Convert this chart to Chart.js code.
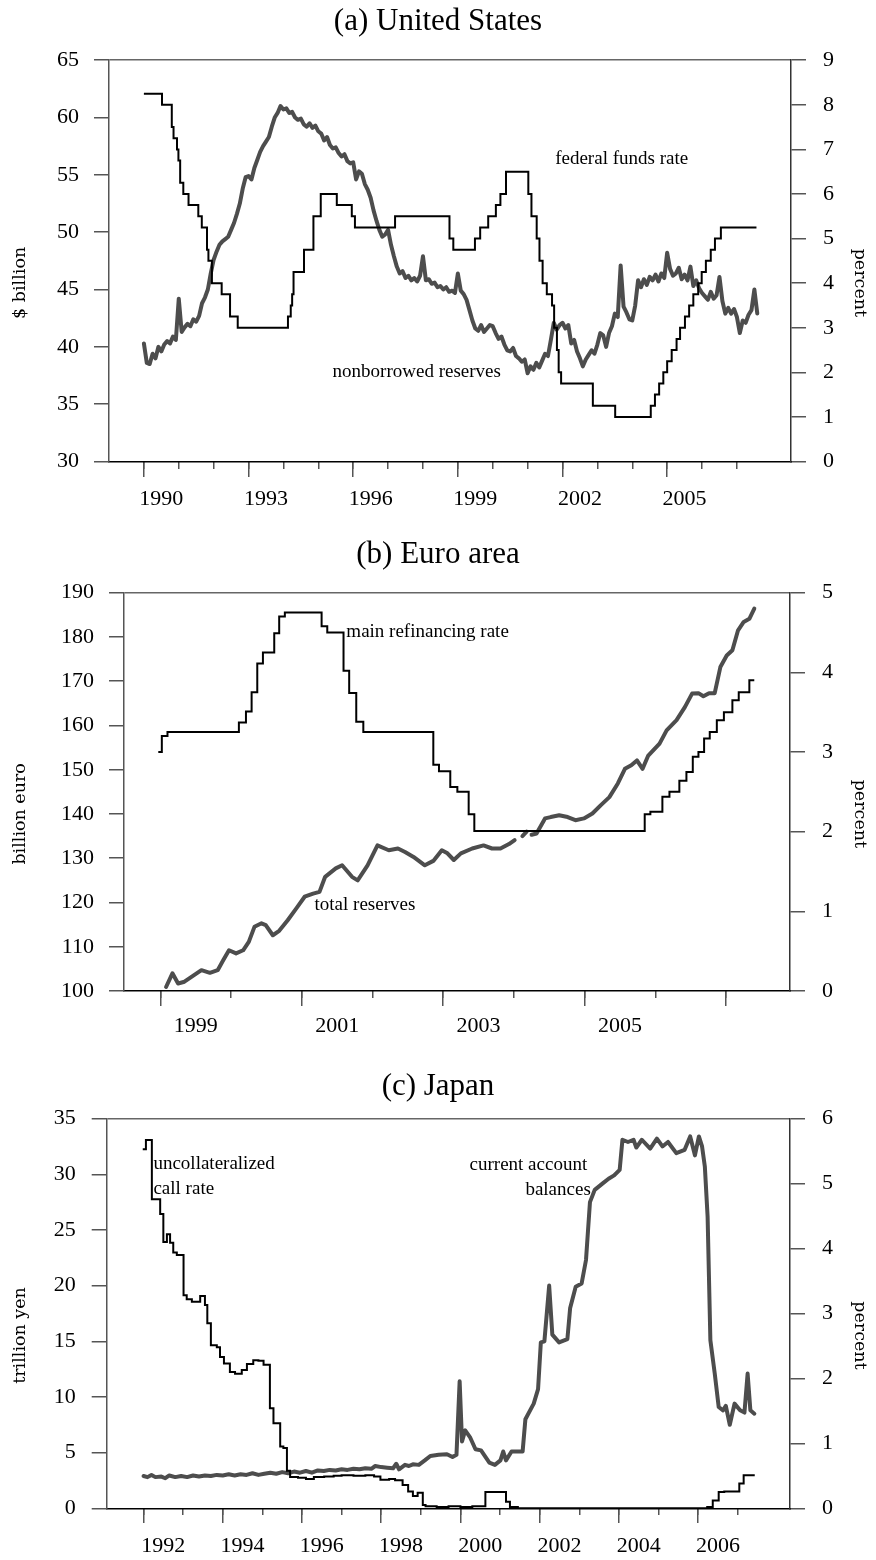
<!DOCTYPE html>
<html>
<head>
<meta charset="utf-8">
<title>Reserves and policy rates</title>
<script src="https://cdn.jsdelivr.net/npm/chart.js@4.4.1/dist/chart.umd.min.js"></script>
<style>
  html, body { margin: 0; padding: 0; background: #fff; }
  canvas { display: block; }
</style>
</head>
<body>
<canvas id="chartUS" width="876" height="520"></canvas>
<canvas id="chartEU" width="876" height="540"></canvas>
<canvas id="chartJP" width="876" height="500"></canvas>
<script>
// ---- (a) United States ----
// nonborrowed reserves, $ billion, monthly from Jan 1990
const usReserveStart = 1990;
const usReserves = [
  40.3, 38.6, 38.5, 39.4, 39.0, 40.0, 39.6, 40.2, 40.5, 40.3, 40.9, 40.6,
  44.2, 41.3, 41.7, 42.0, 41.8, 42.4, 42.2, 42.7, 43.8, 44.3, 45.0, 46.4,
  47.6, 48.3, 48.9, 49.2, 49.4, 49.6, 50.2, 50.8, 51.6, 52.5, 53.8, 54.8,
  54.9, 54.6, 55.6, 56.3, 57.0, 57.5, 57.9, 58.3, 59.2, 60.0, 60.4, 61.0,
  60.7, 60.8, 60.4, 60.5, 60.0, 59.8, 59.9, 59.4, 59.2, 59.5, 59.1, 59.3,
  58.8, 58.6, 58.0, 58.3, 57.6, 57.3, 57.4, 56.9, 56.6, 56.8, 56.2, 56.0,
  56.1, 54.6, 55.3, 55.1, 54.2, 53.7, 53.0, 51.9, 51.0, 50.2, 49.6, 49.8,
  50.2, 48.9, 47.9, 47.0, 46.4, 46.6, 46.0, 46.2, 45.8, 46.0, 45.7, 46.2,
  47.9, 45.8, 45.9, 45.5, 45.6, 45.2, 45.3, 45.0, 45.2, 44.8, 44.9, 44.7,
  46.4, 44.9, 44.6, 44.1, 43.2, 42.3, 41.6, 41.4, 41.9, 41.3, 41.6, 41.9,
  41.8, 41.2, 40.7, 40.9, 40.2, 39.7, 39.6, 39.9, 39.2, 39.0, 38.7, 38.9,
  37.7, 38.3, 38.0, 38.6, 38.2, 38.8, 39.4, 39.2, 40.6, 42.1, 41.5, 41.9,
  42.1, 41.6, 41.9, 40.3, 40.6, 39.6, 39.0, 38.3, 38.9, 39.3, 39.7, 39.4,
  40.2, 41.2, 41.0, 40.0, 41.2, 41.8, 42.9, 42.6, 47.1, 43.5, 43.0, 42.4,
  42.3, 43.6, 45.8, 45.2, 45.9, 45.4, 46.1, 45.8, 46.3, 45.7, 46.4, 46.0,
  48.2, 46.8, 46.2, 46.4, 46.9, 45.9, 46.3, 45.8, 47.0, 45.3, 45.8, 45.1,
  44.7, 44.4, 44.1, 44.8, 44.2, 44.5, 46.1, 44.0, 42.9, 43.4, 42.9, 43.3,
  42.6, 41.2, 42.3, 42.1, 42.8, 43.2, 45.0, 42.9
];
// federal funds rate target, percent (each value holds until the next date)
const usRateDates = [
  1990.0, 1990.52, 1990.80, 1990.85, 1990.95, 1990.99, 1991.04, 1991.13, 1991.28, 1991.56,
  1991.66, 1991.81, 1991.85, 1991.95, 1992.23, 1992.47, 1992.69, 1994.13, 1994.21, 1994.25,
  1994.29, 1994.59, 1994.86, 1995.07, 1995.53, 1995.96, 1996.05, 1997.20, 1998.76, 1998.87,
  1999.49, 1999.64, 1999.87, 2000.09, 2000.22, 2000.38, 2001.02, 2001.11, 2001.26, 2001.34,
  2001.43, 2001.55, 2001.70, 2001.76, 2001.84, 2001.89, 2001.96, 2002.87, 2003.51, 2004.53,
  2004.65, 2004.77, 2004.89, 2005.00, 2005.13, 2005.27, 2005.37, 2005.51, 2005.63, 2005.75,
  2005.89, 2005.99, 2006.11, 2006.25, 2006.37, 2006.54, 2007.56
];
const usRates = [
  8.25, 8.0, 7.5, 7.25, 7.0, 6.75, 6.25, 6.0, 5.75, 5.5,
  5.25, 4.75, 4.5, 4.0, 3.75, 3.25, 3.0, 3.25, 3.5, 3.75,
  4.25, 4.75, 5.5, 6.0, 5.75, 5.5, 5.25, 5.5, 5.0, 4.75,
  5.0, 5.25, 5.5, 5.75, 6.0, 6.5, 6.0, 5.5, 5.0, 4.5,
  4.0, 3.75, 3.5, 3.0, 2.5, 2.0, 1.75, 1.25, 1.0, 1.25,
  1.5, 1.75, 2.0, 2.25, 2.5, 2.75, 3.0, 3.25, 3.5, 3.75,
  4.0, 4.25, 4.5, 4.75, 5.0, 5.25, 5.25
];
const usLabelYears = [1990, 1993, 1996, 1999, 2002, 2005];
const usMajorTicks = [1990, 1993, 1996, 1999, 2002, 2005];
const usMinorTicks = [1990, 1991, 1992, 1993, 1994, 1995, 1996, 1997, 1998, 1999, 2000, 2001, 2002, 2003, 2004, 2005, 2006, 2007];

// ---- (b) Euro area ----
const euReserveDates = [
  1999.08, 1999.17, 1999.25, 1999.34, 1999.46, 1999.58, 1999.70, 1999.81, 1999.89, 1999.97,
  2000.07, 2000.17, 2000.25, 2000.33, 2000.43, 2000.49, 2000.59, 2000.68, 2000.80, 2000.92,
  2001.04, 2001.16, 2001.25, 2001.33, 2001.48, 2001.57, 2001.71, 2001.79, 2001.93, 2002.07,
  2002.23, 2002.36, 2002.46, 2002.58, 2002.74, 2002.86, 2002.98, 2003.06, 2003.15, 2003.25,
  2003.41, 2003.57, 2003.69, 2003.81, 2003.93, 2004.01, 2004.06, 2004.12, 2004.18, 2004.21,
  2004.25, 2004.32, 2004.44, 2004.52, 2004.64, 2004.76, 2004.87, 2004.99, 2005.11, 2005.23,
  2005.35, 2005.47, 2005.57, 2005.66, 2005.74, 2005.82, 2005.90, 2006.06, 2006.16, 2006.30,
  2006.42, 2006.52, 2006.61, 2006.68, 2006.76, 2006.84, 2006.92, 2007.01, 2007.09, 2007.17,
  2007.25, 2007.33, 2007.40
];
const euReserves = [
  100.9, 104.0, 101.7, 102.1, 103.4, 104.7, 104.1, 104.7, 107.0, 109.2,
  108.5, 109.2, 111.1, 114.5, 115.3, 114.9, 112.6, 113.6, 116.0, 118.6,
  121.3, 122.0, 122.4, 125.8, 127.7, 128.4, 125.8, 125.0, 128.4, 132.9,
  131.8, 132.2, 131.4, 130.3, 128.4, 129.4, 131.8, 131.1, 129.6, 131.1,
  132.2, 132.9, 132.2, 132.2, 133.2, 134.1, null, 135.0, 136.0, null,
  135.3, 135.6, 139.0, 139.3, 139.7, 139.3, 138.6, 139.0, 140.1, 142.0,
  143.8, 146.9, 150.2, 151.0, 152.1, 150.2, 153.2, 155.9, 158.9, 161.2,
  164.2, 167.2, 167.3, 166.6, 167.3, 167.3, 173.2, 175.8, 177.0, 181.5,
  183.4, 184.1, 186.4
];
const euRateDates = [
  1998.97, 1999.02, 1999.10, 2000.11, 2000.21, 2000.29, 2000.37, 2000.45, 2000.61, 2000.68,
  2000.76, 2001.28, 2001.36, 2001.59, 2001.67, 2001.77, 2001.87, 2002.86, 2002.94, 2003.10,
  2003.20, 2003.36, 2003.44, 2005.85, 2005.93, 2006.10, 2006.20, 2006.34, 2006.44, 2006.53,
  2006.61, 2006.69, 2006.77, 2006.87, 2006.97, 2007.09, 2007.18, 2007.33, 2007.40
];
const euRates = [
  3.0, 3.2, 3.25, 3.37, 3.51, 3.75, 4.11, 4.25, 4.49, 4.70,
  4.75, 4.58, 4.5, 4.02, 3.74, 3.38, 3.25, 2.84, 2.76, 2.56,
  2.5, 2.22, 2.01, 2.22, 2.25, 2.44, 2.5, 2.64, 2.75, 2.94,
  3.0, 3.17, 3.25, 3.40, 3.50, 3.65, 3.75, 3.90, 3.90
];
const euLabelYears = [1999, 2001, 2003, 2005];
const euMajorTicks = [1999, 2001, 2003, 2005, 2007];
const euMinorTicks = [1999, 2000, 2001, 2002, 2003, 2004, 2005, 2006, 2007];

// ---- (c) Japan ----
const jpBalanceDates = [
  1992.00, 1992.10, 1992.20, 1992.30, 1992.45, 1992.55, 1992.65, 1992.80, 1992.95, 1993.10,
  1993.25, 1993.40, 1993.55, 1993.70, 1993.85, 1994.00, 1994.15, 1994.30, 1994.45, 1994.60,
  1994.75, 1994.90, 1995.05, 1995.20, 1995.35, 1995.50, 1995.65, 1995.80, 1995.95, 1996.10,
  1996.25, 1996.40, 1996.55, 1996.70, 1996.85, 1997.00, 1997.15, 1997.30, 1997.45, 1997.60,
  1997.75, 1997.85, 1998.00, 1998.15, 1998.30, 1998.38, 1998.45, 1998.60, 1998.70, 1998.80,
  1998.95, 1999.10, 1999.24, 1999.45, 1999.66, 1999.80, 1999.90, 1999.98, 2000.04, 2000.12,
  2000.24, 2000.38, 2000.52, 2000.73, 2000.87, 2001.01, 2001.08, 2001.15, 2001.29, 2001.57,
  2001.64, 2001.85, 2001.96, 2002.03, 2002.12, 2002.24, 2002.32, 2002.49, 2002.70, 2002.77,
  2002.91, 2003.06, 2003.17, 2003.27, 2003.39, 2003.60, 2003.74, 2003.88, 2004.02, 2004.09,
  2004.23, 2004.37, 2004.44, 2004.58, 2004.79, 2004.96, 2005.10, 2005.24, 2005.45, 2005.66,
  2005.80, 2005.92, 2006.02, 2006.10, 2006.17, 2006.24, 2006.31, 2006.42, 2006.52, 2006.63,
  2006.70, 2006.80, 2006.92, 2007.06, 2007.17, 2007.25, 2007.32, 2007.42
];
const jpBalances = [
  2.9, 2.8, 3.0, 2.8, 2.85, 2.7, 2.95, 2.8, 2.9, 2.8,
  2.95, 2.85, 2.95, 2.9, 3.0, 2.95, 3.05, 2.95, 3.05, 3.0,
  3.15, 3.0, 3.1, 3.2, 3.1, 3.25, 3.15, 3.3, 3.2, 3.35,
  3.2, 3.4, 3.35, 3.45, 3.4, 3.5, 3.45, 3.55, 3.5, 3.6,
  3.55, 3.8, 3.7, 3.65, 3.6, 4.0, 3.5, 3.9, 3.8, 3.95,
  3.9, 4.3, 4.7, 4.8, 4.85, 4.6, 4.8, 11.4, 6.0, 7.0,
  6.4, 5.3, 5.2, 4.1, 3.9, 4.3, 5.1, 4.3, 5.1, 5.1,
  8.0, 9.4, 10.7, 14.9, 15.0, 20.0, 15.6, 14.9, 15.2, 18.0,
  19.9, 20.2, 22.3, 27.5, 28.6, 29.2, 29.6, 29.9, 30.4, 33.1,
  32.9, 33.1, 32.4, 33.1, 32.3, 33.2, 32.5, 32.9, 31.9, 32.2,
  33.4, 31.7, 33.4, 32.5, 30.7, 26.2, 15.1, 12.1, 9.1, 8.8,
  9.2, 7.5, 9.4, 8.8, 8.6, 12.1, 8.8, 8.5
];
const jpRateDates = [
  1991.98, 1992.06, 1992.21, 1992.42, 1992.50, 1992.59, 1992.67, 1992.75, 1992.84, 1993.01,
  1993.09, 1993.22, 1993.43, 1993.55, 1993.61, 1993.70, 1993.85, 1993.93, 1994.03, 1994.18,
  1994.31, 1994.48, 1994.61, 1994.77, 1994.90, 1995.03, 1995.19, 1995.28, 1995.45, 1995.53,
  1995.62, 1995.70, 1995.90, 1996.10, 1996.30, 1996.56, 1996.80, 1997.00, 1997.30, 1997.60,
  1997.82, 1997.98, 1998.20, 1998.35, 1998.54, 1998.68, 1998.80, 1998.92, 1999.05, 1999.12,
  1999.40, 1999.70, 2000.00, 2000.30, 2000.63, 2001.15, 2001.25, 2001.45, 2006.23, 2006.37,
  2006.52, 2006.66, 2007.04, 2007.15, 2007.43
];
const jpRates = [
  5.53, 5.67, 4.76, 4.53, 4.10, 4.22, 4.09, 3.94, 3.90, 3.28,
  3.22, 3.18, 3.27, 3.13, 2.85, 2.51, 2.48, 2.33, 2.23, 2.10,
  2.07, 2.13, 2.22, 2.28, 2.27, 2.21, 1.54, 1.31, 0.95, 0.93,
  0.58, 0.48, 0.47, 0.45, 0.48, 0.49, 0.50, 0.51, 0.50, 0.51,
  0.49, 0.44, 0.45, 0.43, 0.36, 0.26, 0.19, 0.24, 0.05, 0.03,
  0.02, 0.03, 0.02, 0.03, 0.25, 0.10, 0.02, 0.002, 0.02, 0.12,
  0.25, 0.26, 0.38, 0.51, 0.51
];
const jpLabelYears = [1992, 1994, 1996, 1998, 2000, 2002, 2004, 2006];
const jpMajorTicks = [1992, 1994, 1996, 1998, 2000, 2002, 2004, 2006];
const jpMinorTicks = [1992, 1993, 1994, 1995, 1996, 1997, 1998, 1999, 2000, 2001, 2002, 2003, 2004, 2005, 2006, 2007];

// ---- styling ----
const SERIF = '"Liberation Serif", "Times New Roman", serif';
const SIDE_FONT = '17.5px "DejaVu Serif", serif';
const NOTE_FONT = '19px ' + SERIF;
const GRAY = '#4d4d4d';
const AXIS = '#555';

Chart.defaults.font.family = SERIF;
Chart.defaults.color = '#000';

function pairs(xs, ys) {
  return xs.map((x, i) => ({ x, y: ys[i] }));
}
function monthly(start, ys) {
  return ys.map((y, i) => ({ x: start + i / 12, y }));
}

// axis titles and in-plot labels
function textPlugin(p) {
  return {
    id: 'panelText',
    afterDraw(chart) {
      const { ctx, chartArea, scales } = chart;
      const midY = (chartArea.top + chartArea.bottom) / 2 + 22;
      ctx.save();
      ctx.fillStyle = '#000';
      ctx.textAlign = 'center';
      ctx.textBaseline = 'middle';
      ctx.font = SIDE_FONT;
      ctx.save();
      ctx.translate(20, midY);
      ctx.rotate(-Math.PI / 2);
      ctx.fillText(p.leftTitle, 0, 0);
      ctx.restore();
      ctx.save();
      ctx.translate(860, midY);
      ctx.rotate(Math.PI / 2);
      ctx.fillText(p.rightTitle, 0, 0);
      ctx.restore();
      ctx.font = NOTE_FONT;
      ctx.textAlign = 'left';
      p.notes.forEach((n) => {
        ctx.fillText(n.text, scales.x.getPixelForValue(n.x), scales.y.getPixelForValue(n.y));
      });
      ctx.restore();
    },
  };
}

function tickAxis(p, list, len) {
  return {
    type: 'linear', axis: 'x', position: { y: p.left.min },
    min: p.xMin, max: p.xMax, bounds: 'data',
    afterBuildTicks: (s) => { s.ticks = list.map((v) => ({ value: v })); },
    ticks: { display: false },
    grid: { drawOnChartArea: false, tickLength: len, tickColor: AXIS, lineWidth: 1.5 },
    border: { display: false },
  };
}

function buildPanel(id, p) {
  return new Chart(document.getElementById(id), {
    type: 'line',
    data: {
      datasets: [
        {
          data: pairs(p.rateDates, p.rates), xAxisID: 'x', yAxisID: 'y2',
          stepped: true, borderColor: '#000', borderWidth: 2, pointRadius: 0,
        },
        {
          data: p.reserves, xAxisID: 'x', yAxisID: 'y',
          borderColor: GRAY, borderWidth: 4, pointRadius: 0,
          borderJoinStyle: 'round', borderCapStyle: 'round', spanGaps: false,
        },
      ],
    },
    options: {
      responsive: false,
      animation: false,
      events: [],
      layout: { padding: 0 },
      plugins: {
        legend: { display: false },
        tooltip: { enabled: false },
        title: {
          display: true, text: p.title, color: '#000',
          font: { size: 31, weight: 'normal' },
          padding: p.titlePad,
        },
      },
      scales: {
        x: {
          type: 'linear', axis: 'x', position: 'bottom',
          min: p.xMin, max: p.xMax, bounds: 'data',
          afterBuildTicks: (s) => { s.ticks = p.labelYears.map((v) => ({ value: v + 0.5 })); },
          afterFit: (s) => { s.height = p.xHeight; },
          ticks: {
            callback: (v) => String(v - 0.5), autoSkip: false, maxRotation: 0,
            font: { size: 22 }, color: '#000', padding: p.xLabelPad,
          },
          grid: { drawOnChartArea: false, tickLength: 15, tickColor: 'rgba(0,0,0,0)' },
          border: { color: '#000', width: 1.5 },
        },
        xMajor: tickAxis(p, p.majorTicks, 15),
        xMinor: tickAxis(p, p.minorTicks, 7),
        y: {
          type: 'linear', axis: 'y', position: 'left',
          min: p.left.min, max: p.left.max,
          afterFit: (s) => { s.width = p.leftWidth; },
          ticks: { stepSize: p.left.step, font: { size: 22 }, color: '#000', padding: p.leftPad },
          grid: {
            drawOnChartArea: true, tickLength: 15, tickColor: AXIS, lineWidth: 1.5,
            color: (c) => (c.tick && c.tick.value === p.left.max ? '#666' : 'rgba(0,0,0,0)'),
          },
          border: { color: AXIS, width: 1.5 },
        },
        y2: {
          type: 'linear', axis: 'y', position: 'right',
          min: p.right.min, max: p.right.max,
          afterFit: (s) => { s.width = 876 - p.rightEdge; },
          ticks: { stepSize: 1, font: { size: 22 }, color: '#000', padding: 17 },
          grid: { drawOnChartArea: false, tickLength: 15, tickColor: AXIS, lineWidth: 1.5 },
          border: { color: '#333', width: 1.5 },
        },
      },
    },
    plugins: [textPlugin(p)],
  });
}

buildPanel('chartUS', {
  title: '(a) United States',
  titlePad: { top: 3, bottom: 20 },
  xMin: 1989.0, xMax: 2008.55, xHeight: 58.5, xLabelPad: 10,
  labelYears: usLabelYears, majorTicks: usMajorTicks, minorTicks: usMinorTicks,
  left: { min: 30, max: 65, step: 5 }, right: { min: 0, max: 9 },
  leftWidth: 109, leftPad: 15, rightEdge: 791,
  reserves: monthly(usReserveStart, usReserves),
  rateDates: usRateDates, rates: usRates,
  leftTitle: '$ billion', rightTitle: 'percent',
  notes: [
    { text: 'federal funds rate', x: 2001.79, y: 56.4 },
    { text: 'nonborrowed reserves', x: 1995.41, y: 37.84 },
  ],
});

buildPanel('chartEU', {
  title: '(b) Euro area',
  titlePad: { top: 16.4, bottom: 19.1 },
  xMin: 1998.485, xMax: 2007.905, xHeight: 69, xLabelPad: 7,
  labelYears: euLabelYears, majorTicks: euMajorTicks, minorTicks: euMinorTicks,
  left: { min: 100, max: 190, step: 10 }, right: { min: 0, max: 5 },
  leftWidth: 124, leftPad: 15, rightEdge: 790,
  reserves: pairs(euReserveDates, euReserves),
  rateDates: euRateDates, rates: euRates,
  leftTitle: 'billion euro', rightTitle: 'percent',
  notes: [
    { text: 'main refinancing rate', x: 2001.63, y: 181.1 },
    { text: 'total reserves', x: 2001.18, y: 119.4 },
  ],
});

buildPanel('chartJP', {
  title: '(c) Japan',
  titlePad: { top: 8.4, bottom: 13 },
  xMin: 1991.07, xMax: 2008.32, xHeight: 51.7, xLabelPad: 9.5,
  labelYears: jpLabelYears, majorTicks: jpMajorTicks, minorTicks: jpMinorTicks,
  left: { min: 0, max: 35, step: 5 }, right: { min: 0, max: 6 },
  leftWidth: 106.7, leftPad: 16, rightEdge: 790,
  reserves: pairs(jpBalanceDates, jpBalances),
  rateDates: jpRateDates, rates: jpRates,
  leftTitle: 'trillion yen', rightTitle: 'percent',
  notes: [
    { text: 'uncollateralized', x: 1992.25, y: 30.9 },
    { text: 'call rate', x: 1992.25, y: 28.7 },
    { text: 'current account', x: 2000.23, y: 30.8 },
    { text: 'balances', x: 2001.64, y: 28.6 },
  ],
});
</script>
</body>
</html>
